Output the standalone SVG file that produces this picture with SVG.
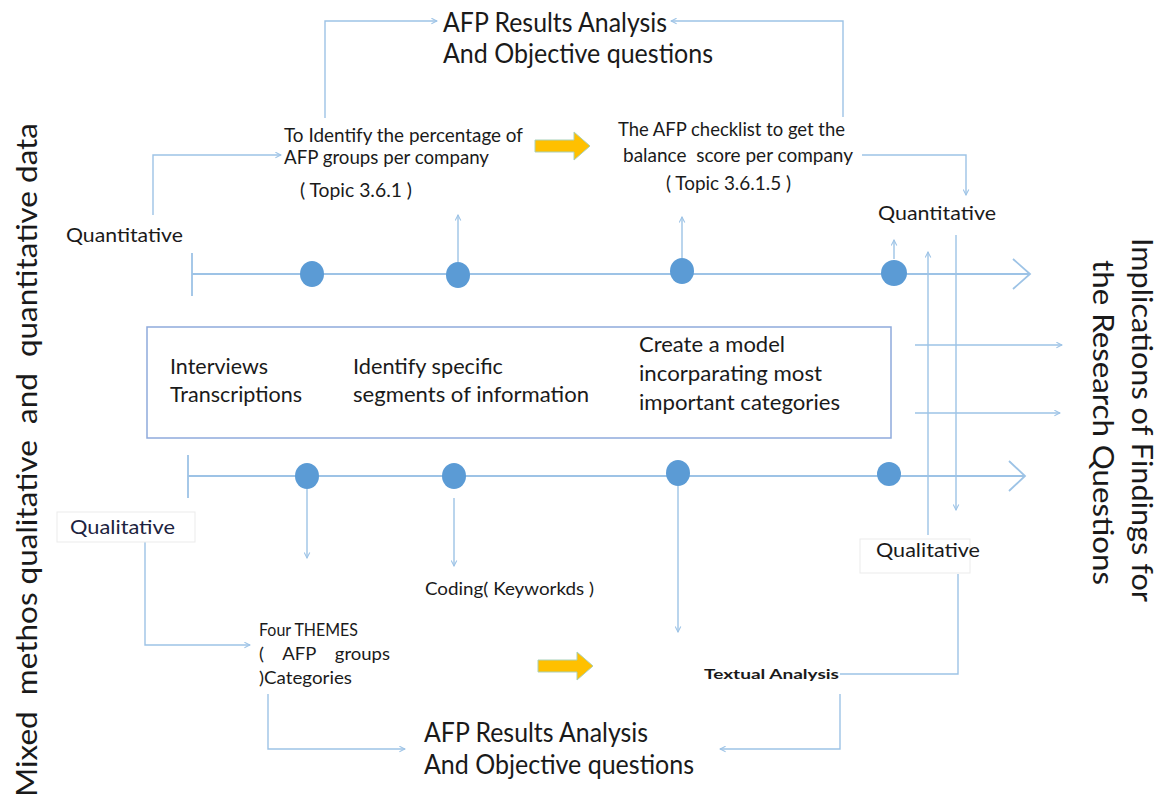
<svg xmlns="http://www.w3.org/2000/svg" width="1171" height="796" viewBox="0 0 1171 796">
  <style>
    text { font-family: Lato, "Open Sans", "Liberation Sans", sans-serif; fill: #1a1a1a; white-space: pre; }
    .title { font-size: 26px; }
    .lbl { font-size: 19px; }
    .box { font-size: 22px; }
    .side { font-size: 29px; }
    .conn { fill: none; stroke: #9DC3E6; stroke-width: 1.4; }
    .axis { fill: none; stroke: #9DC3E6; stroke-width: 1.8; }
    .dot { fill: #5B9BD5; }
    .frame { fill: #ffffff; stroke: #8FAADC; stroke-width: 1.5; }
    .tag { fill: #ffffff; stroke: #ebebeb; stroke-width: 1; }
    .block { fill: #FFC000; stroke: #A9D0B8; stroke-width: 1; }
  </style>
  <defs>
    <marker id="arr" viewBox="0 0 10 10" refX="9" refY="5" markerWidth="7" markerHeight="7" orient="auto" markerUnits="userSpaceOnUse">
      <path d="M1,1 L9,5 L1,9" fill="none" stroke="#9DC3E6" stroke-width="1.5"/>
    </marker>
  </defs>

  <rect width="1171" height="796" fill="#ffffff"/>

  <!-- side captions -->
  <g id="side-left">
    <text class="side" transform="translate(37,797) rotate(-90)" textLength="674" lengthAdjust="spacingAndGlyphs">Mixed  methos qualitative  and  quantitative data</text>
  </g>
  <g id="side-right">
    <text class="side" transform="translate(1132,238) rotate(90)" textLength="364" lengthAdjust="spacingAndGlyphs">Implications of Findings for</text>
    <text class="side" transform="translate(1093,260) rotate(90)" textLength="325" lengthAdjust="spacingAndGlyphs">the Research Questions</text>
  </g>

  <!-- timelines -->
  <g id="timeline-top">
    <path class="axis" d="M192,274 H1030 M1013,259 L1030,274 L1013,289 M192,253 V296"/>
    <ellipse class="dot" cx="312" cy="274" rx="12" ry="13"/>
    <ellipse class="dot" cx="458" cy="275" rx="12" ry="13"/>
    <ellipse class="dot" cx="682" cy="271" rx="12" ry="13"/>
    <ellipse class="dot" cx="894" cy="273" rx="13" ry="13"/>
  </g>
  <g id="timeline-bottom">
    <path class="axis" d="M188,476 H1025 M1009,461 L1025,476 L1009,491 M188,455 V498"/>
    <ellipse class="dot" cx="307" cy="476" rx="12" ry="13"/>
    <ellipse class="dot" cx="454" cy="476" rx="12" ry="13"/>
    <ellipse class="dot" cx="678" cy="473" rx="12" ry="13"/>
    <ellipse class="dot" cx="889" cy="474" rx="12" ry="12"/>
  </g>

  <!-- connectors -->
  <g id="connectors">
    <path class="conn" d="M325,118 V21 H437" marker-end="url(#arr)"/>
    <path class="conn" d="M843,117 V21 H671" marker-end="url(#arr)"/>
    <path class="conn" d="M153,215 V155 H281" marker-end="url(#arr)"/>
    <path class="conn" d="M862,155 H966 V195" marker-end="url(#arr)"/>
    <path class="conn" d="M458,262 V215" marker-end="url(#arr)"/>
    <path class="conn" d="M682,258 V217" marker-end="url(#arr)"/>
    <path class="conn" d="M894,259 V240" marker-end="url(#arr)"/>
    <path class="conn" d="M928,535 V252" marker-end="url(#arr)"/>
    <path class="conn" d="M956,235 V510" marker-end="url(#arr)"/>
    <path class="conn" d="M915,345 H1062" marker-end="url(#arr)"/>
    <path class="conn" d="M915,413 H1060" marker-end="url(#arr)"/>
    <path class="conn" d="M145,542 V645 H250" marker-end="url(#arr)"/>
    <path class="conn" d="M307,489 V558" marker-end="url(#arr)"/>
    <path class="conn" d="M454,498 V566" marker-end="url(#arr)"/>
    <path class="conn" d="M678,486 V632" marker-end="url(#arr)"/>
    <path class="conn" d="M840,674 H958 V574"/>
    <path class="conn" d="M840,694 V749 H720" marker-end="url(#arr)"/>
    <path class="conn" d="M268,694 V749 H405" marker-end="url(#arr)"/>
  </g>

  <!-- block arrows -->
  <g id="flow-top">
    <path class="block" d="M535,140 H574 V132 L590,146 L574,160 V152 H535 Z"/>
  </g>
  <g id="flow-bottom">
    <path class="block" d="M538,660 H577 V652 L593,666 L577,680 V672 H538 Z"/>
  </g>

  <!-- nodes -->
  <g id="results-top">
    <text class="title" x="443" y="32" textLength="224" lengthAdjust="spacingAndGlyphs">AFP Results Analysis</text>
    <text class="title" x="443" y="63" textLength="270" lengthAdjust="spacingAndGlyphs">And Objective questions</text>
  </g>
  <g id="identify-percentage">
    <text class="lbl" x="284" y="142" textLength="239" lengthAdjust="spacingAndGlyphs">To Identify the percentage of</text>
    <text class="lbl" x="284" y="164" textLength="205" lengthAdjust="spacingAndGlyphs">AFP groups per company</text>
    <text class="lbl" x="300" y="197" textLength="112" lengthAdjust="spacingAndGlyphs">( Topic 3.6.1 )</text>
  </g>
  <g id="afp-checklist">
    <text class="lbl" x="618" y="136" textLength="227" lengthAdjust="spacingAndGlyphs">The AFP checklist to get the</text>
    <text class="lbl" x="623" y="162" textLength="230" lengthAdjust="spacingAndGlyphs">balance  score per company</text>
    <text class="lbl" x="666" y="190" textLength="125" lengthAdjust="spacingAndGlyphs">( Topic 3.6.1.5 )</text>
  </g>
  <g id="quantitative-left">
    <text class="lbl" x="66" y="242" textLength="117" lengthAdjust="spacingAndGlyphs">Quantitative</text>
  </g>
  <g id="quantitative-right">
    <text class="lbl" x="878" y="220" textLength="118" lengthAdjust="spacingAndGlyphs">Quantitative</text>
  </g>
  <g id="process-box">
    <rect class="frame" x="147" y="327" width="744" height="111"/>
    <text class="box" x="170" y="374" textLength="98" lengthAdjust="spacingAndGlyphs">Interviews</text>
    <text class="box" x="170" y="402" textLength="132" lengthAdjust="spacingAndGlyphs">Transcriptions</text>
    <text class="box" x="353" y="374" textLength="150" lengthAdjust="spacingAndGlyphs">Identify specific</text>
    <text class="box" x="353" y="402" textLength="236" lengthAdjust="spacingAndGlyphs">segments of information</text>
    <text class="box" x="639" y="352" textLength="146" lengthAdjust="spacingAndGlyphs">Create a model</text>
    <text class="box" x="639" y="381" textLength="183" lengthAdjust="spacingAndGlyphs">incorparating most</text>
    <text class="box" x="639" y="410" textLength="201" lengthAdjust="spacingAndGlyphs">important categories</text>
  </g>
  <g id="qualitative-left">
    <rect class="tag" x="57" y="512" width="138" height="30"/>
    <text class="lbl" x="70" y="534" textLength="105" lengthAdjust="spacingAndGlyphs" style="fill:#1c2340">Qualitative</text>
  </g>
  <g id="qualitative-right">
    <rect class="tag" x="860" y="539" width="110" height="34"/>
    <text class="lbl" x="876" y="557" textLength="104" lengthAdjust="spacingAndGlyphs">Qualitative</text>
  </g>
  <g id="coding">
    <text class="lbl" x="425" y="595" textLength="169" lengthAdjust="spacingAndGlyphs" style="font-size:17px">Coding( Keyworkds )</text>
  </g>
  <g id="themes">
    <text class="lbl" x="259" y="636" textLength="99" lengthAdjust="spacingAndGlyphs" style="font-size:17px">Four THEMES</text>
    <text class="lbl" x="259" y="660" textLength="131" lengthAdjust="spacingAndGlyphs" style="font-size:17px">(    AFP    groups</text>
    <text class="lbl" x="259" y="684" textLength="93" lengthAdjust="spacingAndGlyphs" style="font-size:17px">)Categories</text>
  </g>
  <g id="textual-analysis">
    <text x="704" y="679" textLength="135" lengthAdjust="spacingAndGlyphs" style="font-size:14px;font-weight:bold">Textual Analysis</text>
  </g>
  <g id="results-bottom">
    <text class="title" x="424" y="742" textLength="224" lengthAdjust="spacingAndGlyphs">AFP Results Analysis</text>
    <text class="title" x="424" y="774" textLength="270" lengthAdjust="spacingAndGlyphs">And Objective questions</text>
  </g>
</svg>
